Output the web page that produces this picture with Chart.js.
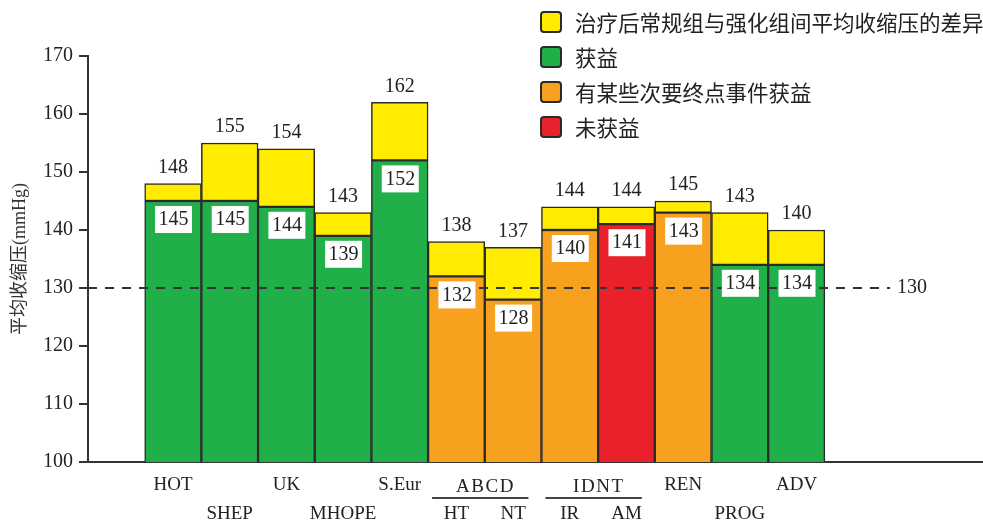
<!DOCTYPE html>
<html>
<head>
<meta charset="utf-8">
<script src="https://cdn.jsdelivr.net/npm/chart.js@4.4.0/dist/chart.umd.min.js"></script>
<style>
  html, body { margin: 0; padding: 0; background: #fff; }
</style>
</head>
<body>
<canvas id="graph" width="983" height="525"></canvas>
<script>
// trials, in drawing order
const trials = ['HOT', 'SHEP', 'UK', 'MHOPE', 'S.Eur', 'HT', 'NT', 'IR', 'AM', 'REN', 'PROG', 'ADV'];
// which label row the trial name sits on
const labelRow = [1, 2, 1, 2, 1, 2, 2, 2, 2, 1, 2, 1];
// mean SBP after treatment, intensive group / usual group
const intensiveSbp = [145, 145, 144, 139, 152, 132, 128, 140, 141, 143, 134, 134];
const usualSbp = [148, 155, 154, 143, 162, 138, 137, 144, 144, 145, 143, 140];
// outcome of each trial: 0 获益, 1 有某些次要终点事件获益, 2 未获益
const outcome = [0, 0, 0, 0, 0, 1, 1, 1, 2, 1, 0, 0];
// trials that belong to one study
const studyGroups = [
    { name: 'ABCD', first: 5, last: 6 },
    { name: 'IDNT', first: 7, last: 8 },
];
const refLine = 130;
const yMin = 100, yMax = 170, yStep = 10;

const legendNames = ['治疗后常规组与强化组间平均收缩压的差异', '获益', '有某些次要终点事件获益', '未获益'];
const yellow = '#FFEC00';
const outcomeColors = ['#21AF4A', '#F7A11F', '#E8212A'];
const legendColors = [yellow, outcomeColors[0], outcomeColors[1], outcomeColors[2]];

const serif = "'Liberation Serif', 'Noto Sans CJK SC', serif";
const edge = '#2a2a2a';

const overlay = {
    id: 'overlay',
    afterDatasetsDraw(chart) {
        const ctx = chart.ctx;
        const xs = chart.scales.x, ys = chart.scales.y;
        const area = chart.chartArea;
        ctx.save();

        // 130 reference line
        let yRef = ys.getPixelForValue(refLine);
        let xEnd = xs.getPixelForValue(trials.length - 1 + 1.65);
        ctx.strokeStyle = '#333';
        ctx.lineWidth = 2;
        ctx.setLineDash([9, 8]);
        ctx.beginPath();
        ctx.moveTo(area.left, yRef);
        ctx.lineTo(xEnd, yRef);
        ctx.stroke();
        ctx.setLineDash([]);
        ctx.font = '20px ' + serif;
        ctx.fillStyle = '#222';
        ctx.textAlign = 'left';
        ctx.textBaseline = 'middle';
        ctx.fillText(String(refLine), xEnd + 7, yRef);

        // values
        ctx.textAlign = 'center';
        trials.forEach((t, i) => {
            let x = xs.getPixelForValue(i);
            ctx.fillStyle = '#222';
            ctx.fillText(String(usualSbp[i]), x, ys.getPixelForValue(usualSbp[i]) - 16);
            let top = ys.getPixelForValue(intensiveSbp[i]) + 5;
            ctx.fillStyle = '#fff';
            ctx.fillRect(x - 18, top, 37, 27);
            ctx.fillStyle = '#222';
            ctx.fillText(String(intensiveSbp[i]), x + 0.5, top + 14);
        });

        // study group names with underline
        ctx.font = '19px ' + serif;
        let half = (xs.getPixelForValue(1) - xs.getPixelForValue(0)) / 2;
        studyGroups.forEach(g => {
            let x0 = xs.getPixelForValue(g.first) - half;
            let x1 = xs.getPixelForValue(g.last) + half;
            ctx.fillStyle = '#222';
            ctx.fillText(g.name.split('').join(String.fromCharCode(8202)), (x0 + x1) / 2, area.bottom + 25);
            ctx.strokeStyle = '#444';
            ctx.lineWidth = 2;
            ctx.beginPath();
            ctx.moveTo(x0 + 4, area.bottom + 36);
            ctx.lineTo(x1 - 13, area.bottom + 36);
            ctx.stroke();
        });

        // legend
        ctx.font = "21.5px 'Noto Sans CJK SC', sans-serif";
        ctx.textAlign = 'left';
        legendNames.forEach((name, i) => {
            let cy = 22 + i * 35;
            ctx.fillStyle = legendColors[i];
            ctx.strokeStyle = edge;
            ctx.lineWidth = 2;
            ctx.beginPath();
            ctx.roundRect(541, cy - 10, 20, 20, 3);
            ctx.fill();
            ctx.stroke();
            ctx.fillStyle = '#222';
            ctx.fillText(name, 575, cy + 1);
        });
        ctx.restore();
    }
};

new Chart('graph', {
    type: 'bar',
    data: {
        datasets: [{
            label: '强化组',
            data: trials.map((t, i) => ({ x: i, y: intensiveSbp[i] })),
            backgroundColor: outcome.map(o => outcomeColors[o]),
            borderColor: edge,
            borderWidth: 1.5,
            borderSkipped: false,
            barPercentage: 1,
            categoryPercentage: 1,
            grouped: false,
        }, {
            label: '差异',
            data: trials.map((t, i) => ({ x: i, y: [intensiveSbp[i], usualSbp[i]] })),
            backgroundColor: yellow,
            borderColor: edge,
            borderWidth: 1.5,
            borderSkipped: false,
            barPercentage: 1,
            categoryPercentage: 1,
            grouped: false,
        }]
    },
    options: {
        responsive: false,
        animation: false,
        devicePixelRatio: 1,
        layout: { padding: { top: 56, left: 0, right: 0, bottom: 0 } },
        plugins: { legend: { display: false }, tooltip: { enabled: false } },
        scales: {
            x: {
                type: 'linear',
                offset: false,
                min: -1.5,
                max: 14.29,
                afterBuildTicks: s => { s.ticks = trials.map((t, i) => ({ value: i })); },
                afterFit: s => { s.height = 63; },
                ticks: {
                    autoSkip: false,
                    maxRotation: 0,
                    padding: 9,
                    color: '#222',
                    font: { family: serif, size: 19, lineHeight: 1.52 },
                    callback: (v) => labelRow[v] === 1 ? [trials[v], ''] : ['', trials[v]],
                },
                grid: { drawOnChartArea: false, drawTicks: false },
                border: { color: '#333', width: 2 },
            },
            y: {
                min: yMin,
                max: yMax,
                afterFit: s => { s.width = 88; },
                ticks: {
                    stepSize: yStep,
                    padding: 6,
                    color: '#222',
                    font: { family: serif, size: 20 },
                },
                grid: { drawOnChartArea: false, tickLength: 9, color: '#333', lineWidth: 2 },
                border: { color: '#333', width: 2 },
                title: {
                    display: true,
                    text: '平均收缩压(mmHg)',
                    color: '#333',
                    font: { family: serif, size: 18 },
                    padding: { top: 9, bottom: 0 },
                },
            }
        }
    },
    plugins: [overlay]
});
</script>
</body>
</html>
